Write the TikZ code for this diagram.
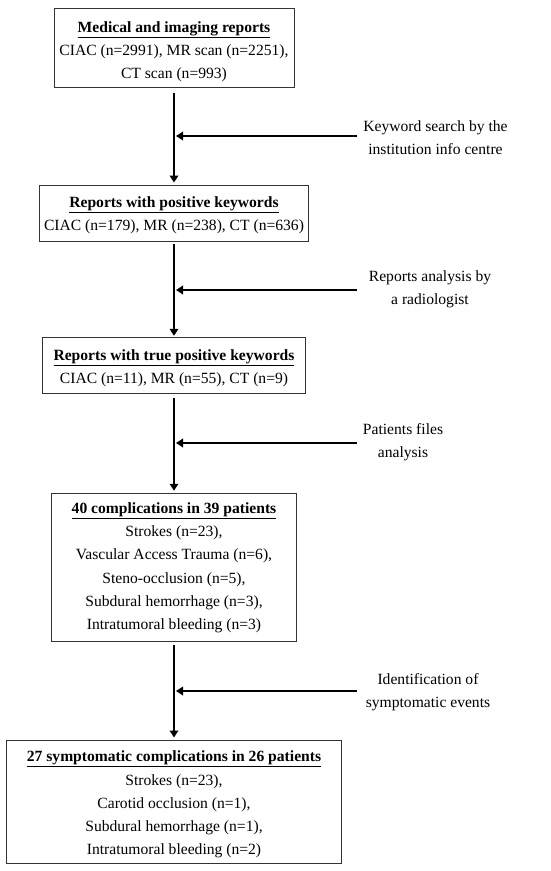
\documentclass[tikz,border=0pt]{standalone}
\usepackage{fontspec}
\setmainfont{Liberation Serif}
\usetikzlibrary{arrows.meta}
\tikzset{
  box/.style={draw=black!80, line width=1pt, align=center, inner sep=0pt,
    font=\fontsize{15.6}{23.3}\selectfont},
  lab/.style={align=center, inner sep=0pt, font=\fontsize{15.6}{23.3}\selectfont},
  flow/.style={line width=1.8pt, -{Triangle[length=7pt,width=8.5pt]}},
}
\newcommand{\ttl}[2]{\rule{0pt}{#1}\underline{\textbf{#2}}}
\newcommand{\btm}{\rule[-4pt]{0pt}{4pt}}
\begin{document}
\begin{tikzpicture}[x=1pt,y=-1pt]
\useasboundingbox (0,0) rectangle (550,871);
\node[box, minimum width=240pt, minimum height=79pt] (b1) at (174,47.6)
  {\ttl{19.6pt}{Medical and imaging reports}\\CIAC (n=2991), MR scan (n=2251),\\CT scan (n=993)\btm};
\node[box, minimum width=269pt, minimum height=56.5pt] (b2) at (174,213.3)
  {\ttl{15.2pt}{Reports with positive keywords}\\CIAC (n=179), MR (n=238), CT (n=636)\btm};
\node[box, minimum width=263pt, minimum height=56pt] (b3) at (174,365.3)
  {\ttl{16.7pt}{Reports with true positive keywords}\\CIAC (n=11), MR (n=55), CT (n=9)\btm};
\node[box, minimum width=245pt, minimum height=148.5pt] (b4) at (174,567.5)
  {\ttl{12.1pt}{40 complications in 39 patients}\\Strokes (n=23),\\Vascular Access Trauma (n=6),\\Steno-occlusion (n=5),\\Subdural hemorrhage (n=3),\\Intratumoral bleeding (n=3)\btm};
\node[box, minimum width=335pt, minimum height=123pt] (b5) at (174,801.5)
  {\ttl{17.6pt}{27 symptomatic complications in 26 patients}\\Strokes (n=23),\\Carotid occlusion (n=1),\\Subdural hemorrhage (n=1),\\Intratumoral bleeding (n=2)\btm};

\node[lab] (l1) at (435.5,138) {Keyword search by the\\institution info centre};
\node[lab] (l2) at (430,289.5) {Reports analysis by\\a radiologist};
\node[lab] (l3) at (403,442.5) {Patients files\\analysis};
\node[lab] (l4) at (428,692) {Identification of\\symptomatic events};

\coordinate (s1) at (357,136); \coordinate (j1) at (176,136);
\coordinate (s2) at (357,290); \coordinate (j2) at (176,290);
\coordinate (s3) at (357,443); \coordinate (j3) at (176,443);
\coordinate (s4) at (357,691); \coordinate (j4) at (176,691);

\draw[flow, shorten <=5pt, shorten >=2pt] (b1.south) -- (b2.north);
\draw[flow, shorten <=2pt, shorten >=1pt] (b2.south) -- (b3.north);
\draw[flow, shorten <=4pt, shorten >=2pt] (b3.south) -- (b4.north);
\draw[flow, shorten <=3pt, shorten >=2pt] (b4.south) -- (b5.north);
\draw[flow] (s1) -- (j1);
\draw[flow] (s2) -- (j2);
\draw[flow] (s3) -- (j3);
\draw[flow] (s4) -- (j4);
\end{tikzpicture}
\end{document}
